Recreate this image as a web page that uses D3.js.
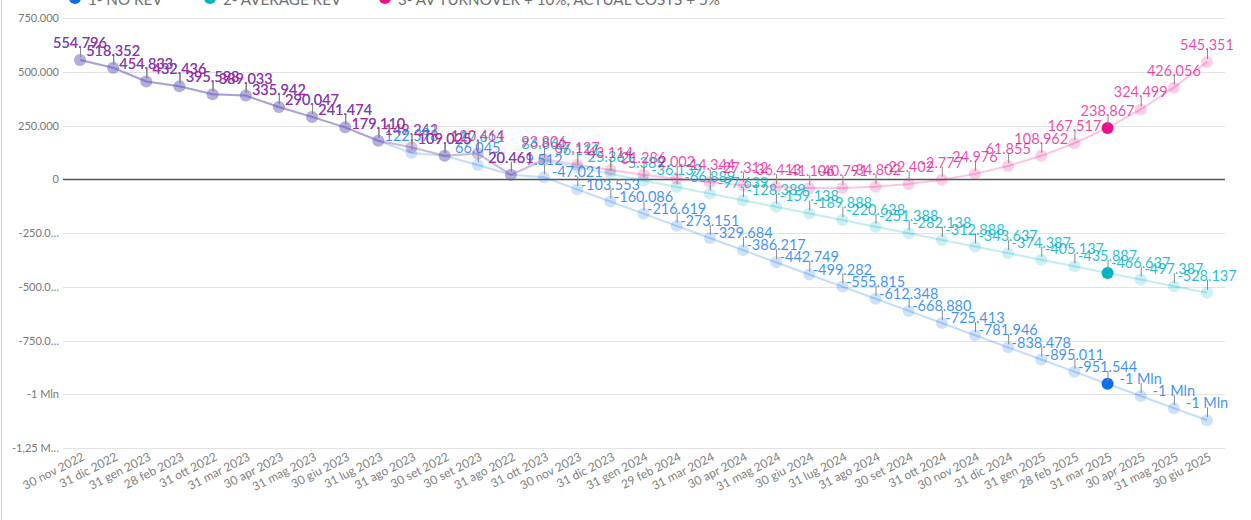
<!DOCTYPE html>
<html>
<head>
<meta charset="utf-8">
<script src="https://cdn.jsdelivr.net/npm/d3@7"></script>
<style>
  html, body { margin: 0; padding: 0; background: #fff; overflow: hidden; }
  svg { display: block; }
</style>
</head>
<body>
<svg id="chart" width="1251" height="520"></svg>
<script>
const categories = ["30 nov 2022","31 dic 2022","31 gen 2023","28 feb 2023","31 ott 2022","31 mar 2023","30 apr 2023","31 mag 2023","30 giu 2023","31 lug 2023","31 ago 2023","30 set 2022","30 set 2023","31 ago 2022","31 ott 2023","30 nov 2023","31 dic 2023","31 gen 2024","29 feb 2024","31 mar 2024","30 apr 2024","31 mag 2024","30 giu 2024","31 lug 2024","31 ago 2024","30 set 2024","31 ott 2024","30 nov 2024","31 dic 2024","31 gen 2025","28 feb 2025","31 mar 2025","30 apr 2025","31 mag 2025","30 giu 2025"];

const seriesNames = ["1- NO REV", "2- AVERAGE REV", "3- AV TURNOVER + 10%, ACTUAL COSTS + 5%"];

const noRev = [554796, 518352, 454833, 432436, 395598, 389033, 335942, 290047, 241474, 179110, 122578, 109025, 66045, 20461, 9512, -47021, -103553, -160086, -216619, -273151, -329684, -386217, -442749, -499282, -555815, -612348, -668880, -725413, -781946, -838478, -895011, -951544, -1008077, -1064610, -1121142];

const averageRev = [554796, 518352, 454833, 432436, 395598, 389033, 335942, 290047, 241474, 179110, 148361, 109025, 117611, 20461, 86861, 56111, 25361, -5389, -36139, -66889, -97639, -128389, -159138, -189888, -220638, -251388, -282138, -312888, -343637, -374387, -405137, -435887, -466637, -497387, -528137];

const avTurnover = [554796, 518352, 454833, 432436, 395598, 389033, 335942, 290047, 241474, 179110, 149242, 109025, 120464, 20461, 93806, 67127, 43114, 21286, 2002, -14344, -27312, -36413, -41106, -40791, -34802, -22402, -2777, 24976, 61855, 108962, 167517, 238867, 324499, 426056, 545351];

const highlightCategory = "31 mar 2025";

const yTickValues = [750000, 500000, 250000, 0, -250000, -500000, -750000, -1000000, -1250000];
const yTickLabels = ["750.000", "500.000", "250.000", "0", "-250.0…", "-500.0…", "-750.0…", "-1 Mln", "-1,25 M…"];

const colors = ["#0a6ff0", "#00b4c6", "#ee0f8c"];
const labelColors = ["#1a7ff0", "#00b2c8", "#e6008a"];
const labelOpacity = [0.85, 0.85, 0.72];
const drawOrder = [1, 0, 2];

const svg = d3.select("#chart");
const W = 1251, H = 520;
const FONT = "Lato, 'Open Sans', sans-serif";

// left border
svg.append("line").attr("x1", 1.5).attr("x2", 1.5).attr("y1", 0).attr("y2", H)
  .attr("stroke", "#cfcfcf").attr("stroke-width", 1);

const x = d3.scalePoint().domain(categories).range([80, 1207]);
const y = d3.scaleLinear().domain([-1250000, 750000]).range([448, 18]);

// grid
const gridLeft = 63, gridRight = 1225;
const gGrid = svg.append("g");
gGrid.selectAll("line").data(yTickValues).join("line")
  .attr("x1", gridLeft).attr("x2", gridRight)
  .attr("y1", d => Math.round(y(d)) + 0.5).attr("y2", d => Math.round(y(d)) + 0.5)
  .attr("stroke", d => d === 0 ? "#555" : "#e3e3e3")
  .attr("stroke-width", d => d === 0 ? 1.5 : 1);

// y axis
const yAxis = d3.axisLeft(y).tickValues(yTickValues)
  .tickFormat((d, i) => yTickLabels[i]).tickSize(0).tickPadding(0);
const gy = svg.append("g").attr("transform", `translate(59,0)`).call(yAxis);
gy.select(".domain").remove();
gy.selectAll("text").attr("fill", "#777").style("font-family", FONT).style("font-size", "11px");

// x axis
const xAxis = d3.axisBottom(x).tickSize(0).tickPadding(0);
const gx = svg.append("g").attr("transform", `translate(0,451)`).call(xAxis);
gx.select(".domain").remove();
gx.selectAll("text")
  .attr("fill", "#808080")
  .style("font-family", FONT).style("font-size", "12px")
  .attr("text-anchor", "end")
  .attr("dy", "0.7em")
  .attr("transform", "translate(1,1) rotate(-27)");

const seriesData = [noRev, averageRev, avTurnover];

const line = d3.line().x((d, i) => x(categories[i])).y(d => y(d));

// lines
drawOrder.forEach(s => {
  svg.append("path").datum(seriesData[s])
    .attr("d", line)
    .attr("fill", "none")
    .attr("stroke", colors[s])
    .attr("stroke-opacity", 0.24)
    .attr("stroke-width", 2);
});

// points
drawOrder.forEach(s => {
  const g = svg.append("g");
  g.selectAll("circle").data(seriesData[s]).join("circle")
    .attr("cx", (d, i) => x(categories[i]))
    .attr("cy", d => y(d))
    .attr("r", 6)
    .attr("fill", colors[s])
    .attr("fill-opacity", (d, i) => categories[i] === highlightCategory ? 1 : 0.2);
});

// ticks (leader lines)
drawOrder.forEach(s => {
  const g = svg.append("g");
  g.selectAll("line").data(seriesData[s]).join("line")
    .attr("x1", (d, i) => x(categories[i]) + 0.5)
    .attr("x2", (d, i) => x(categories[i]) + 0.5)
    .attr("y1", d => y(d) - 3)
    .attr("y2", d => y(d) - 13)
    .attr("stroke", "#8a8a8a")
    .attr("stroke-width", 1);
});

// labels
const itFmt = v => {
  if (Math.abs(v) >= 1e6) return (v < 0 ? "-" : "") + Math.round(Math.abs(v) / 1e6) + " Mln";
  const s = d3.format(",")(Math.abs(v)).replace(/,/g, ".");
  return (v < 0 ? "-" : "") + s;
};
drawOrder.forEach(s => {
  const g = svg.append("g");
  g.selectAll("text").data(seriesData[s]).join("text")
    .attr("x", (d, i) => x(categories[i]))
    .attr("y", d => y(d) - 12)
    .attr("text-anchor", "middle")
    .attr("fill", labelColors[s])
    .attr("fill-opacity", labelOpacity[s])
    .style("font-family", FONT)
    .style("font-size", "14.5px")
    .text(d => itFmt(d));
});

// legend (partially clipped at top)
const legendX = [75, 210, 385];
const lg = svg.append("g");
seriesNames.forEach((n, i) => {
  lg.append("circle").attr("cx", legendX[i]).attr("cy", -2).attr("r", 6).attr("fill", colors[i]);
  lg.append("text").attr("x", legendX[i] + 13).attr("y", 5)
    .attr("fill", "#707070")
    .style("font-family", FONT).style("font-size", "15.2px")
    .text(n);
});
</script>
</body>
</html>
